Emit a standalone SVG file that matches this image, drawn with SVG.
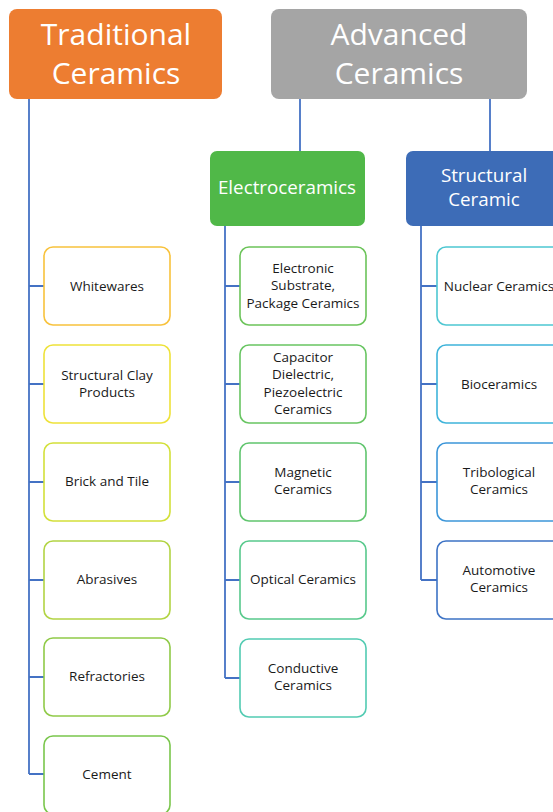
<svg xmlns="http://www.w3.org/2000/svg" width="553" height="812" viewBox="0 0 553 812">
  <style>
    .head { font-family: "Open Sans", "Noto Sans", sans-serif; fill: #ffffff; text-anchor: middle; }
    .big { font-size: 30px; }
    .mid { font-size: 18.8px; }
    .leaf rect { fill: #ffffff; stroke-width: 1.6; }
    .leaf text { font-family: "Open Sans", "Noto Sans", sans-serif; font-size: 13.5px; fill: #1a1a1a; text-anchor: middle; }
    .conn { stroke: #4472C4; stroke-width: 1.8; fill: none; }
  </style>
  <rect width="553" height="812" fill="#ffffff"/>

  <!-- connectors -->
  <g id="connectors" class="conn">
    <path d="M29 99 V774"/>
    <path d="M29 286 H44 M29 384 H44 M29 482 H44 M29 580 H44 M29 677 H44 M29 774 H44"/>
    <path d="M300 99 V151"/>
    <path d="M490 99 V151"/>
    <path d="M225 226 V678"/>
    <path d="M225 286 H240 M225 384 H240 M225 482 H240 M225 580 H240 M225 678 H240"/>
    <path d="M421 226 V580"/>
    <path d="M421 286 H437 M421 384 H437 M421 482 H437 M421 580 H437"/>
  </g>

  <!-- top level -->
  <g id="traditional">
    <rect x="9" y="9" width="213" height="90" rx="8" fill="#ED7D31"/>
    <text class="head big" x="116" y="45">Traditional</text>
    <text class="head big" x="116" y="84">Ceramics</text>
  </g>
  <g id="advanced">
    <rect x="271" y="9" width="256" height="90" rx="8" fill="#A5A5A5"/>
    <text class="head big" x="399" y="45">Advanced</text>
    <text class="head big" x="399" y="84">Ceramics</text>
  </g>

  <!-- second level -->
  <g id="electroceramics">
    <rect x="210" y="151" width="155" height="75" rx="7" fill="#50B848"/>
    <text class="head mid" x="287" y="194">Electroceramics</text>
  </g>
  <g id="structural">
    <rect x="406" y="151" width="160" height="75" rx="7" fill="#3D6CB7"/>
    <text class="head mid" x="484" y="182">Structural</text>
    <text class="head mid" x="484" y="206">Ceramic</text>
  </g>

  <!-- traditional leaves -->
  <g id="whitewares" class="leaf">
    <rect x="44" y="247" width="126" height="78" rx="9" stroke="#F8C23C"/>
    <text x="107" y="291">Whitewares</text>
  </g>
  <g id="structural-clay" class="leaf">
    <rect x="44" y="345" width="126" height="78" rx="9" stroke="#EEE23A"/>
    <text x="107" y="380">Structural Clay</text>
    <text x="107" y="397">Products</text>
  </g>
  <g id="brick-tile" class="leaf">
    <rect x="44" y="443" width="126" height="78" rx="9" stroke="#D3E03A"/>
    <text x="107" y="486">Brick and Tile</text>
  </g>
  <g id="abrasives" class="leaf">
    <rect x="44" y="541" width="126" height="78" rx="9" stroke="#B2D444"/>
    <text x="107" y="584">Abrasives</text>
  </g>
  <g id="refractories" class="leaf">
    <rect x="44" y="638" width="126" height="78" rx="9" stroke="#90CA48"/>
    <text x="107" y="681">Refractories</text>
  </g>
  <g id="cement" class="leaf">
    <rect x="44" y="736" width="126" height="78" rx="9" stroke="#7AC64C"/>
    <text x="107" y="779">Cement</text>
  </g>

  <!-- electroceramics leaves -->
  <g id="electronic-substrate" class="leaf">
    <rect x="240" y="247" width="126" height="78" rx="9" stroke="#6CC45A"/>
    <text x="303" y="273">Electronic</text>
    <text x="303" y="290">Substrate,</text>
    <text x="303" y="308">Package Ceramics</text>
  </g>
  <g id="capacitor" class="leaf">
    <rect x="240" y="345" width="126" height="78" rx="9" stroke="#68C562"/>
    <text x="303" y="362">Capacitor</text>
    <text x="303" y="379">Dielectric,</text>
    <text x="303" y="397">Piezoelectric</text>
    <text x="303" y="414">Ceramics</text>
  </g>
  <g id="magnetic" class="leaf">
    <rect x="240" y="443" width="126" height="78" rx="9" stroke="#60C56E"/>
    <text x="303" y="477">Magnetic</text>
    <text x="303" y="494">Ceramics</text>
  </g>
  <g id="optical" class="leaf">
    <rect x="240" y="541" width="126" height="78" rx="9" stroke="#58C98C"/>
    <text x="303" y="584">Optical Ceramics</text>
  </g>
  <g id="conductive" class="leaf">
    <rect x="240" y="639" width="126" height="78" rx="9" stroke="#52CBB2"/>
    <text x="303" y="673">Conductive</text>
    <text x="303" y="690">Ceramics</text>
  </g>

  <!-- structural leaves -->
  <g id="nuclear" class="leaf">
    <rect x="437" y="247" width="126" height="78" rx="9" stroke="#4EC7D2"/>
    <text x="499" y="291">Nuclear Ceramics</text>
  </g>
  <g id="bioceramics" class="leaf">
    <rect x="437" y="345" width="126" height="78" rx="9" stroke="#3FB4DA"/>
    <text x="499" y="389">Bioceramics</text>
  </g>
  <g id="tribological" class="leaf">
    <rect x="437" y="443" width="126" height="78" rx="9" stroke="#3C96D9"/>
    <text x="499" y="477">Tribological</text>
    <text x="499" y="494">Ceramics</text>
  </g>
  <g id="automotive" class="leaf">
    <rect x="437" y="541" width="126" height="78" rx="9" stroke="#3D73C5"/>
    <text x="499" y="575">Automotive</text>
    <text x="499" y="592">Ceramics</text>
  </g>
</svg>
